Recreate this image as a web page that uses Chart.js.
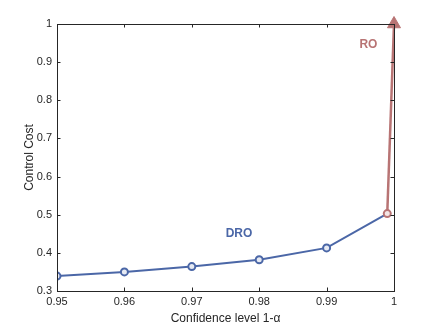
<!DOCTYPE html>
<html>
<head>
<meta charset="utf-8">
<script src="https://cdn.jsdelivr.net/npm/chart.js@4"></script>
<style>
  html, body { margin: 0; padding: 0; background: #fff; }
  #wrap { width: 436px; height: 327px; }
</style>
</head>
<body>
<div id="wrap"><canvas id="chart" width="436" height="327"></canvas></div>
<script>
const levels = [0.95, 0.96, 0.97, 0.98, 0.99, 0.999];
const droCost = [0.339, 0.350, 0.364, 0.382, 0.413, 0.503];
const roLevels = [0.999, 1.0];
const roCost = [0.503, 1.0];
const xTicks = [0.95, 0.96, 0.97, 0.98, 0.99, 1];
const yTicks = [0.3, 0.4, 0.5, 0.6, 0.7, 0.8, 0.9, 1];

const blue = '#4b67a7';
const red = '#b87474';
const axisColor = '#262626';
const fontFamily = 'Helvetica, "Liberation Sans", Arial, sans-serif';

// MATLAB-style box with inward ticks on all four sides
const boxTicks = {
  id: 'boxTicks',
  afterDraw(chart) {
    const { ctx, chartArea: a, scales: { x, y } } = chart;
    ctx.save();
    ctx.strokeStyle = axisColor;
    ctx.lineWidth = 1;
    ctx.strokeRect(Math.round(a.left) + 0.5, Math.round(a.top) + 0.5,
      Math.round(a.right - a.left), Math.round(a.bottom - a.top));
    const len = 3.5;
    ctx.beginPath();
    xTicks.forEach(v => {
      const px = Math.round(x.getPixelForValue(v)) + 0.5;
      ctx.moveTo(px, a.bottom); ctx.lineTo(px, a.bottom - len);
      ctx.moveTo(px, a.top); ctx.lineTo(px, a.top + len);
    });
    yTicks.forEach(v => {
      const py = Math.round(y.getPixelForValue(v)) + 0.5;
      ctx.moveTo(a.left, py); ctx.lineTo(a.left + len, py);
      ctx.moveTo(a.right, py); ctx.lineTo(a.right - len, py);
    });
    ctx.stroke();

    // series labels
    ctx.font = 'bold 12px ' + fontFamily;
    ctx.textAlign = 'center';
    ctx.textBaseline = 'middle';
    ctx.fillStyle = blue;
    ctx.fillText('DRO', x.getPixelForValue(0.977), y.getPixelForValue(0.45));
    ctx.fillStyle = red;
    ctx.fillText('RO', x.getPixelForValue(0.9962), y.getPixelForValue(0.946));
    ctx.restore();
  }
};

new Chart(document.getElementById('chart'), {
  type: 'line',
  data: {
    datasets: [
      {
        label: 'RO',
        data: roLevels.map((v, i) => ({ x: v, y: roCost[i] })),
        borderColor: red,
        backgroundColor: red,
        borderWidth: 2.5,
        clip: false,
        pointStyle: ['circle', 'triangle'],
        pointRadius: [3.5, 7.5],
        pointBorderWidth: [2, 1],
        pointBackgroundColor: ['#f3e6e6', red],
        pointBorderColor: red,
        order: 1
      },
      {
        label: 'DRO',
        data: levels.map((v, i) => ({ x: v, y: droCost[i] })),
        borderColor: blue,
        backgroundColor: blue,
        borderWidth: 2,
        pointRadius: levels.map((v, i) => i === levels.length - 1 ? 0 : 3.5),
        pointBorderWidth: 2,
        pointBackgroundColor: '#e6eaf3',
        pointBorderColor: blue,
        order: 2
      }
    ]
  },
  options: {
    responsive: false,
    animation: false,
    layout: { padding: { left: 17, right: 42, top: 24, bottom: 0 } },
    plugins: { legend: { display: false }, tooltip: { enabled: false } },
    scales: {
      x: {
        type: 'linear',
        min: 0.95, max: 1,
        afterBuildTicks: s => { s.ticks = xTicks.map(v => ({ value: v })); },
        afterFit: s => { s.height = 36; },
        grid: { display: false, drawTicks: false },
        border: { display: false },
        ticks: {
          padding: 4,
          color: axisColor,
          font: { size: 11, family: fontFamily },
          maxRotation: 0,
          callback: v => String(Number(v.toFixed(2)))
        },
        title: {
          display: true,
          text: 'Confidence level 1-α',
          color: axisColor,
          font: { size: 12, family: fontFamily },
          padding: { top: 0, bottom: 1 }
        }
      },
      y: {
        type: 'linear',
        min: 0.3, max: 1,
        afterBuildTicks: s => { s.ticks = yTicks.map(v => ({ value: v })); },
        afterFit: s => { s.width = 40; },
        grid: { display: false, drawTicks: false },
        border: { display: false },
        ticks: {
          padding: 5,
          color: axisColor,
          font: { size: 11, family: fontFamily },
          callback: v => String(Number(v.toFixed(1)))
        },
        title: {
          display: true,
          text: 'Control Cost',
          color: axisColor,
          font: { size: 12, family: fontFamily },
          padding: { top: 5, bottom: 0 }
        }
      }
    }
  },
  plugins: [boxTicks]
});
</script>
</body>
</html>
